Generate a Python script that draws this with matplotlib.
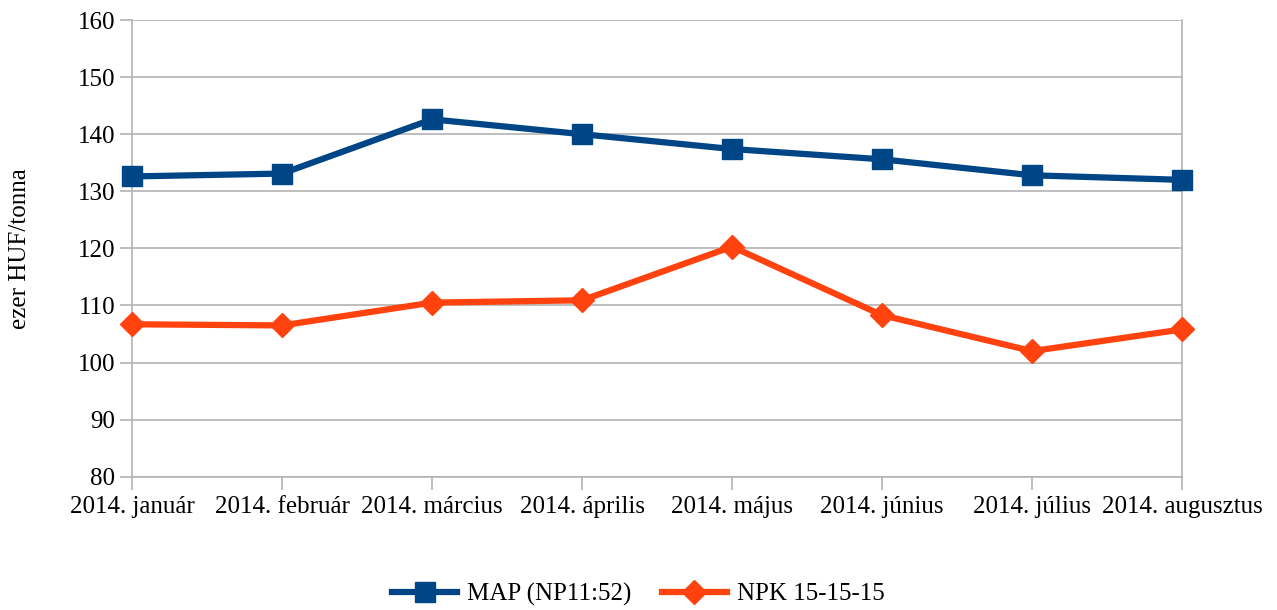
import matplotlib.pyplot as plt

plt.rcParams['font.family'] = ['Liberation Serif', 'DejaVu Serif']

months = ["2014. január", "2014. február", "2014. március", "2014. április",
          "2014. május", "2014. június", "2014. július", "2014. augusztus"]
map_values = [132.6, 133.1, 142.6, 140.0, 137.4, 135.6, 132.8, 132.0]
npk_values = [106.7, 106.5, 110.5, 110.9, 120.3, 108.3, 102.0, 105.8]

grid_col = '#b3b3b3'
fs = 18

fig = plt.figure(figsize=(12.77, 6.10), dpi=100)
ax = fig.add_axes([0.1034, 0.2185, 0.8222, 0.7487])

x = list(range(len(months)))
ax.plot(x, map_values, color='#004586', linewidth=4.5, marker='s',
        markersize=14, label='MAP (NP11:52)', zorder=3, clip_on=False)
ax.plot(x, npk_values, color='#ff420e', linewidth=4.5, marker='D',
        markersize=12.5, label='NPK 15-15-15', zorder=3, clip_on=False)

ax.set_xlim(0, len(months) - 1)
ax.set_ylim(80, 160)
ax.set_yticks(range(80, 161, 10))
ax.set_xticks(x)
ax.set_xticklabels(months)
ax.grid(axis='y', color=grid_col, linewidth=1.2)
ax.set_axisbelow(True)
for side in ax.spines:
    ax.spines[side].set_color(grid_col)
    ax.spines[side].set_linewidth(1.2)
ax.spines['top'].set_visible(False)
ax.tick_params(axis='both', colors=grid_col, labelcolor='black',
               labelsize=fs, length=9, width=1.2)
ax.tick_params(axis='x', pad=5)
ax.tick_params(axis='y', pad=3)
ax.set_ylabel('ezer HUF/tonna', fontsize=fs, labelpad=34)

fig.legend(loc='lower center', bbox_to_anchor=(0.5, -0.03), ncol=2,
           frameon=False, fontsize=fs, handlelength=2.6, handletextpad=0.4,
           columnspacing=1.2)

fig.savefig('out.png', dpi=100)
